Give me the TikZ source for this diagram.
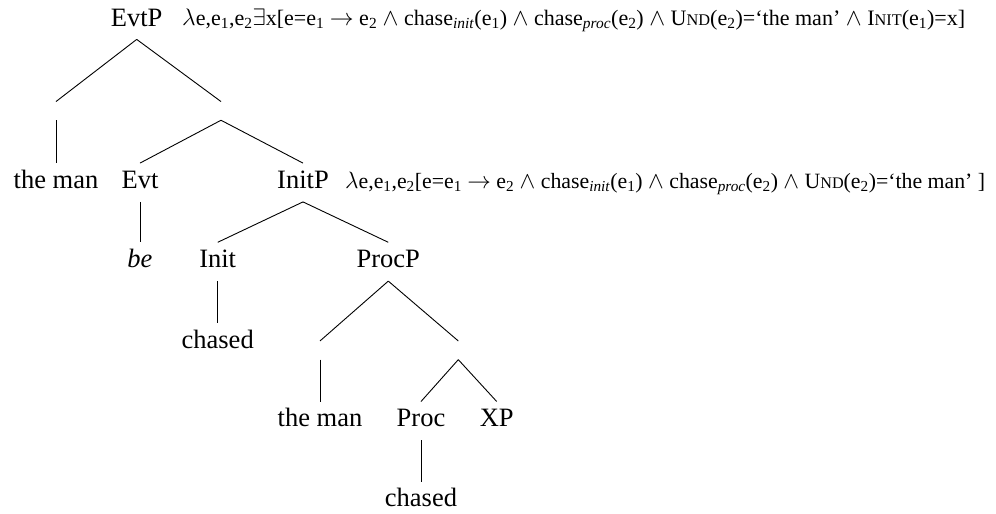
\documentclass[tikz,border=0pt]{standalone}
\usepackage{graphicx}
\usepackage{fontspec}
\setmainfont{Liberation Serif}
\newcommand\fakesc[2]{#1{\fontsize{17}{20}\selectfont #2}}
\newcommand\sbs[1]{\textsubscript{#1}}
\begin{document}
\begin{tikzpicture}[x=1pt,y=-1pt,
  lbl/.style={inner sep=0pt, text height=18pt, text depth=6pt, minimum height=38.4pt, font=\fontsize{26.5}{30}\selectfont},
  gap/.style={inner sep=0pt, minimum height=18.3pt, minimum width=0pt},
  formula/.style={inner sep=0pt, anchor=base west, font=\fontsize{23}{28}\selectfont},
  branch/.style={draw, line width=0.9pt}]
\useasboundingbox (0,0) rectangle (996,514);
% level 0
\node[lbl] (evtp) at (136.7,20) {EvtP};
\node[formula] (f1) at (182,25) {\resizebox{783pt}{!}{$\lambda$e,e\sbs{1},e\sbs{2}$\exists$x[e=e\sbs{1} $\rightarrow$ e\sbs{2} $\wedge$ chase\sbs{\textit{init}}(e\sbs{1}) $\wedge$ chase\sbs{\textit{proc}}(e\sbs{2}) $\wedge$ \fakesc{U}{ND}(e\sbs{2})=`the man' $\wedge$ \fakesc{I}{NIT}(e\sbs{1})=x]}};
% level 1
\node[gap] (g1) at (56,110.9) {};
\node[gap] (g2) at (221,110.9) {};
% level 2
\node[lbl] (man1) at (56,182.5) {the man};
\node[lbl] (evt) at (140,182.5) {Evt};
\node[lbl] (initp) at (303,182.5) {InitP};
\node[formula] (f2) at (345,188) {\resizebox{640pt}{!}{$\lambda$e,e\sbs{1},e\sbs{2}[e=e\sbs{1} $\rightarrow$ e\sbs{2} $\wedge$ chase\sbs{\textit{init}}(e\sbs{1}) $\wedge$ chase\sbs{\textit{proc}}(e\sbs{2}) $\wedge$ \fakesc{U}{ND}(e\sbs{2})=`the man' ]}};
% level 3
\node[lbl] (be) at (140,261.7) {\textit{be}};
\node[lbl] (init) at (217.7,261.7) {Init};
\node[lbl] (procp) at (388.3,261.7) {ProcP};
% level 4
\node[lbl] (chased1) at (217.7,342.5) {chased};
\node[gap] (g3) at (320,350.3) {};
\node[gap] (g4) at (458.3,350.3) {};
% level 5
\node[lbl] (man2) at (320,420.9) {the man};
\node[lbl] (proc) at (421,420.9) {Proc};
\node[lbl] (xp) at (496.7,420.9) {XP};
% level 6
\node[lbl] (chased2) at (421,500.9) {chased};
% branches
\draw[branch] (evtp.south) -- (g1.north);
\draw[branch] (evtp.south) -- (g2.north);
\draw[branch] (g1.south) -- (man1.north);
\draw[branch] (g2.south) -- (evt.north);
\draw[branch] (g2.south) -- (initp.north);
\draw[branch] (evt.south) -- (be.north);
\draw[branch] (initp.south) -- (init.north);
\draw[branch] (initp.south) -- (procp.north);
\draw[branch] (init.south) -- (chased1.north);
\draw[branch] (procp.south) -- (g3.north);
\draw[branch] (procp.south) -- (g4.north);
\draw[branch] (g3.south) -- (man2.north);
\draw[branch] (g4.south) -- (proc.north);
\draw[branch] (g4.south) -- (xp.north);
\draw[branch] (proc.south) -- (chased2.north);
\end{tikzpicture}
\end{document}
